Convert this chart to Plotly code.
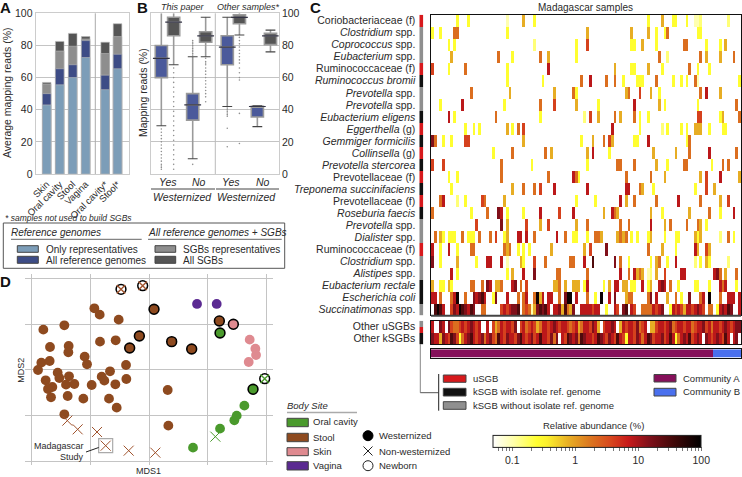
import math
import plotly.graph_objects as go

W, H = 742, 477
FONT = "Liberation Sans"
TXT = "#2a2a2a"

# ---------- Panel A ----------
a_labels = ["Skin", "Oral cavity", "Stool", "Vagina", "Oral cavity*", "Stool*"]
a_pos = [0, 1, 2, 3, 4.5, 5.45]
a_only_rep = [43, 55.5, 60, 72.5, 52.5, 65.5]
a_all_ref = [50, 65.5, 68, 83, 61.5, 74.5]
a_sgb_rep = [56, 76.5, 79.5, 84, 75, 85.5]
a_all_sgb = [57, 82.5, 87.5, 85.5, 82, 93.5]

# ---------- Panel B ----------
b_pos = [0, 0.385, 0.98, 1.385, 2.06, 2.44, 3.0, 3.41]
b_q1 = [60, 86, 33.5, 82, 68, 93.5, 35.5, 80.5]
b_med = [72, 94.5, 43, 86, 79, 97.5, 42, 86]
b_q3 = [80, 97.5, 50, 88.5, 86, 99, 42.2, 87.5]
b_low = [30, 68, 9.5, 73, 42, 86.5, 29.5, 76]
b_up = [100, 100, 73, 97.5, 97.5, 100, 42.5, 89.5]
b_out_x = ([0] * 15 + [0.385] * 22 + [0.98] * 11 + [1.385] * 15 + [2.06] * 8 + [2.44] * 15)
b_out_y = [28, 26, 24, 22, 20, 18, 16, 14, 12, 10, 8, 6, 5, 4, 3,
           66, 63, 60, 57, 54, 51, 48, 45, 42, 39, 36, 33, 30, 27, 24, 21, 18, 15, 12, 9, 6, 3,
           74, 75, 76, 77, 78, 79, 80, 81, 82, 83, 6,
           72, 70, 69, 68, 66, 64, 62, 60, 58, 56, 54, 52, 50, 48, 45,
           41, 40, 39, 38, 37, 36, 28.5, 17,
           85, 83, 81, 79, 77, 75, 73, 71, 69, 66, 63, 60, 58.5, 37.7, 19]

# ---------- Panel C ----------
P, Y, G, O, F, R, D, B, K = 0.1, 0.25, 0.8, 2, 4, 8, 15, 30, 80
row_names = ["Coriobacteriaceae (f)", "<i>Clostridium</i> spp.", "<i>Coprococcus</i> spp.", "<i>Eubacterium</i> spp.",
             "Ruminococcaceae (f)", "<i>Ruminococcus bromii</i>", "<i>Prevotella</i> spp.", "<i>Prevotella</i> spp.",
             "<i>Eubacterium eligens</i>", "<i>Eggerthella</i> (g)", "<i>Gemmiger formicilis</i>", "<i>Collinsella</i> (g)",
             "<i>Prevotella stercorea</i>", "Prevotellaceae (f)", "<i>Treponema succinifaciens</i>", "Prevotellaceae (f)",
             "<i>Roseburia faecis</i>", "<i>Prevotella</i> spp.", "<i>Dialister</i> spp.", "Ruminococcaceae (f)",
             "<i>Clostridium</i> spp.", "<i>Alistipes</i> spp.", "<i>Eubacterium rectale</i>", "<i>Escherichia coli</i>",
             "<i>Succinatimonas</i> spp."]
row_types = [0, 2, 2, 2, 0, 1, 2, 2, 1, 0, 1, 0, 1, 0, 1, 0, 1, 2, 2, 0, 2, 2, 1, 1, 2]

r01 = [(9, Y), (13, Y), (27, P), (33, G), (37, Y), (78, Y), (83, G), (87, Y), (88, Y), (92, Y), (95, P), (96, P), (97, 0.15), (107, 0.15)]
r02 = [(0, Y), (3, Y), (8, O), (9, O), (27, Y), (56, G), (72, G), (78, G), (81, Y), (84, Y), (85, O), (96, Y), (97, Y)]
r03 = [(6, Y), (8, Y), (37, 0.15), (52, Y), (56, F), (72, Y), (73, Y), (76, G), (81, Y), (91, O), (92, O), (99, Y), (104, Y), (106, G)]
r04 = [(7, G), (24, O), (29, Y), (39, O), (42, G), (52, Y), (82, O), (85, 0.15), (97, O), (99, G), (104, G), (109, O)]
r05 = [(0, F), (6, Y), (12, O), (27, Y), (42, R), (66, G), (72, Y), (73, Y), (78, G), (83, Y), (93, O), (96, Y), (100, Y)]
r06 = [(27, Y), (40, Y), (54, O), (57, R), (63, O), (66, O), (69, Y), (74, Y), (75, Y), (76, Y), (81, O), (87, Y), (90, Y), (92, Y), (95, O), (96, P), (111, Y)]
r07 = [(14, O), (28, G), (44, G), (51, O), (52, Y), (70, G), (71, O), (75, F), (79, G), (82, Y), (97, O), (99, R), (104, G)]
r08 = [(3, Y), (11, R), (26, Y), (39, O), (44, F), (52, G), (60, Y), (73, R), (82, G), (84, Y), (96, Y), (110, O)]
r09 = [(6, R), (8, Y), (23, O), (39, Y), (55, 0.15), (57, F), (60, G), (66, O), (68, G), (73, O), (75, Y), (78, Y), (96, F), (97, F), (104, Y), (105, G), (111, O)]
r10 = [(12, Y), (15, Y), (17, Y), (27, G), (29, Y), (31, O), (33, F), (65, R), (75, Y), (83, 0.15), (85, Y), (90, Y), (92, Y), (95, G), (96, G), (97, G), (100, Y), (105, Y), (106, Y)]
r11 = [(0, D), (1, O), (4, Y), (7, Y), (12, F), (13, F), (33, G), (54, Y), (58, G), (62, O), (64, F), (65, G), (73, Y), (74, Y), (78, R), (92, Y), (93, O)]
r12 = [(22, Y), (29, O), (41, O), (43, G), (56, G), (58, R), (64, Y), (80, G), (88, G), (93, O), (100, R), (110, O)]
r13 = [(0, F), (4, F), (25, O), (36, Y), (56, Y), (67, O), (68, O), (73, O), (81, G), (85, Y), (91, O), (92, O), (101, Y), (105, O), (107, O)]
r14 = [(6, Y), (9, Y), (25, O), (42, O), (51, R), (52, O), (53, Y), (70, O), (79, O), (84, G), (97, G), (99, F), (104, R), (111, G)]
r15 = [(7, Y), (29, G), (33, O), (37, O), (39, F), (44, R), (56, R), (70, R), (71, R), (75, O), (76, G), (80, Y), (95, Y), (99, F), (102, G)]
r16 = [(3, O), (4, R), (9, 0.15), (12, Y), (18, F), (19, O), (26, G), (52, Y), (59, Y), (68, R), (70, G), (73, O), (81, O), (89, R), (97, O), (104, G), (107, F)]
r17 = [(0, O), (14, Y), (20, O), (24, D), (25, R), (27, Y), (33, Y), (39, R), (46, F), (51, R), (62, G), (65, R), (66, O), (67, G), (79, G), (83, Y), (93, G), (100, O), (104, Y), (109, R)]
r18 = [(16, F), (25, D), (27, G), (34, F), (39, G), (42, F), (52, G), (56, O), (68, O), (71, O), (79, R), (84, G), (86, O), (92, O), (96, O), (97, G), (99, Y)]
r19 = [(1, O), (3, G), (4, Y), (6, Y), (7, Y), (8, Y), (11, O), (13, Y), (14, Y), (15, Y), (17, O), (21, O), (23, F), (26, Y), (27, G), (31, R), (32, R), (34, R), (37, O), (45, R), (48, O), (51, Y), (52, Y), (56, Y), (59, O), (60, O), (61, G), (67, G), (68, O), (69, G), (70, O), (72, Y), (74, Y), (78, Y), (79, G), (84, Y), (88, Y), (89, Y), (95, G), (96, Y), (97, G), (104, 0.15), (107, O), (109, Y)]
r20 = [(0, R), (3, Y), (6, R), (9, Y), (14, O), (15, O), (26, O), (27, G), (28, O), (31, Y), (33, Y), (35, Y), (43, G), (55, G), (57, F), (63, D), (78, O), (83, G), (88, Y), (95, R), (96, G), (99, F), (100, G)]
r21 = [(0, D), (3, Y), (9, G), (16, Y), (20, R), (21, R), (25, R), (27, 0.1), (32, G), (33, Y), (37, F), (41, O), (50, O), (51, O), (55, R), (58, B), (66, D), (68, O), (71, Y), (79, Y), (81, G), (82, O), (85, Y), (88, R), (95, 0.15), (97, Y), (99, G), (100, Y), (107, 0.15)]
r22 = [(7, R), (9, Y), (27, Y), (29, G), (33, R), (37, D), (45, O), (46, O), (56, O), (68, R), (71, O), (73, R), (74, G), (75, O), (76, G), (78, P), (79, 0.15), (81, G), (84, F), (90, R), (91, R), (102, R), (103, D), (104, O), (106, G), (110, O)]
r23 = [(0, G), (3, Y), (4, Y), (6, G), (7, Y), (14, O), (15, O), (18, O), (20, D), (21, R), (23, G), (24, G), (25, O), (29, R), (30, D), (32, O), (34, F), (44, G), (45, G), (46, O), (48, G), (51, G), (52, G), (53, G), (55, Y), (56, R), (62, Y), (64, G), (66, R), (67, R), (69, G), (70, G), (72, Y), (73, Y), (76, R), (78, Y), (79, G), (82, R), (83, D), (84, R), (86, O), (89, Y), (95, Y), (96, Y), (100, Y), (104, R), (105, O), (106, R), (110, Y)]
r24 = [(0, R), (1, R), (3, O), (7, O), (8, R), (9, K), (12, O), (15, D), (16, R), (17, D), (18, B), (19, R), (22, Y), (23, D), (27, R), (31, O), (33, O), (34, R), (37, O), (38, K), (39, G), (40, R), (42, R), (43, R), (46, O), (48, D), (49, K), (50, K), (52, R), (56, O), (59, Y), (61, K), (64, R), (66, D), (70, G), (71, O), (72, O), (78, O), (79, D), (81, R), (85, G), (88, O), (90, Y), (93, D), (97, O), (98, R), (100, K), (104, O), (107, R), (108, R), (109, R), (111, R)]
r25 = [0, B, K, B, R, 0, 0, F, D, R, K, B, D, R, B, D, 0, 0, O, O,
       0, 0, 0, 0, 0, F, R, F, R, D, D, B, 0, O, F, O, P, G, D, B,
       D, B, R, 0, R, R, D, G, B, O, G, D, 0, 0, R, R, R, R, F, R,
       R, 0, 0, Y, 0, 0, R, F, 0, D, B, 0, R, F, 0, 0, O, O, O, O,
       R, F, R, D, 0, 0, Y, R, F, R, F, G, R, R, F, R, D, R, F, 0,
       O, O, 0, Y, R, D, R, B, D, 0, 0, R]
heat_rows = [r01, r02, r03, r04, r05, r06, r07, r08, r09, r10, r11, r12, r13, r14, r15, r16, r17, r18, r19, r20, r21, r22, r23, r24]

other_u = [R, 0, 0, D, R, 0, D, F, O, O, F, R, F, R, D, R, F, R, 0, 0, R, 0, F, G, O, R, F, R, R, F, D, 0, F, R, O, F, R, F, G, O,
           R, R, F, R, D, R, F, R, R, F, O, F, R, G, O, R, R, F, D, R, G, 0, F, R, R, D, R, 0, G, R, F, R, R, F, D, O, F, R, 0, G,
           G, F, R, R, F, R, D, O, F, R, R, F, R, R, O, F, R, R, D, F, R, O, R, R, F, R, D, R, F, R, D, D]
other_k = [D, R, R, G, D, R, F, B, D, F, Y, O, R, D, B, R, F, R, D, O, R, D, F, O, B, R, F, D, R, R, F, D, B, R, F, R, D, F, R, B,
           R, R, F, D, O, D, 0, R, F, B, D, R, D, O, B, D, R, R, F, R, B, D, R, F, D, R, F, B, R, F, Y, R, R, F, D, R, O, R, B, D,
           F, R, R, D, F, R, B, R, Y, O, R, D, R, B, F, R, D, R, 0, D, R, F, R, D, R, F, B, R, 0, R, D, 0]
community_B_start = 102
n_samples = 112

# ---------- Panel D (MDS coordinates, gridlines at multiples of 176 / 137.5) ----------
mds_ticks_x = [-352, -176, 0, 175, 351]
mds_ticks_y = [-275, -137, 0, 137, 275]
stool_x = [-164, -148, -91, -254, -317, -147, -100, -241, -297, -242, -193, -323, -298, -186, -69, -333, -274, -240, -269, -117, -142, -134, -68, -310, -249, -224, -172, -101, -290, -303, 56, -294, -244, -197, -120, -97, -254, 58]
stool_y = [185, 166, 151, 134, 121, 85, 89, 72, 69, 53, 40, 22, 27, 17, 15, 0, -8, -19, -24, -4, -20, -32, -27, -31, -44, -42, -45, -43, -51, -57, -60, -82, -78, -86, -86, -113, -133, -167]
stool_w_x = [15, -29, -58, 68, 128, 211]
stool_w_y = [182, 102, 66, 85, 63, 147]
oral_x = [213, 256, 263, 286, 132]
oral_y = [-176, -151, -137, -107, -233]
oral_w_x = [213, 312]
oral_w_y = [111, -58]
skin_x = [302, 319, 321, 299]
skin_y = [91, 64, 45, 24]
skin_w_x = [253]
skin_w_y = [137]
vagina_x = [144, 203]
vagina_y = [198, 198]
stool_x_x = [-245, -214, -156, -130, -61, 19]
stool_x_y = [-152, -178, -186, -227, -242, -248]
oral_x_x = [199]
oral_x_y = [-200]
newborn_stool_x = [-84, -19]
newborn_stool_y = [242, 253]
newborn_oral_x = [347]
newborn_oral_y = [-26]
madagascar_x = [-130]
madagascar_y = [-227]

C_ONLY, C_ALLREF, C_SGBREP, C_ALLSGB = "#7c9db8", "#3d4c86", "#8e8e8e", "#555555"
C_BOXB = "#4b5a9b"
C_ORAL, C_STOOL, C_SKIN, C_VAG = "#4a9a2c", "#8e4a1f", "#df8a90", "#5b2a92"
C_U, C_K, C_N = "#d7191c", "#111111", "#8f8f8f"
C_A, C_B = "#85105a", "#4a70ee"
GRID = "#c4c4c4"

CSCALE = [[0, "#ffffff"], [0.1, "#ffffa8"], [0.21, "#ffff30"], [0.26, "#fbf02c"], [0.36, "#e8b024"], [0.46, "#dc7a20"],
          [0.56, "#d84a1e"], [0.65, "#c81a1a"], [0.75, "#80101a"], [0.87, "#400808"], [1, "#000000"]]
ZMIN, ZMAX = math.log10(0.05), 2.0


def lg(v):
    return math.log10(v) if v else None


def sparse(pairs):
    row = [None] * n_samples
    for c, v in pairs:
        row[c] = lg(v)
    return row


def fx(p):
    return p / W


def fy(p):
    return 1 - p / H


heat_z = [sparse(r) for r in heat_rows] + [[lg(v) for v in r25]]
other_z = [[lg(v) for v in other_u], [lg(v) for v in other_k]]

fig = go.Figure()
ann, shp = [], []


def text(x, y, s, size=10, anchor="left", color=TXT, angle=0, bold=False, italic=False):
    if italic:
        s = "<i>" + s + "</i>"
    if bold:
        s = "<b>" + s + "</b>"
    ann.append(dict(x=fx(x), y=fy(y), xref="paper", yref="paper", text=s, showarrow=False, xanchor=anchor,
                    yanchor="middle", font=dict(size=size, color=color, family=FONT), textangle=angle,
                    borderpad=0, borderwidth=0))


def line(x0, y0, x1, y1, color=TXT, width=1):
    shp.append(dict(type="line", xref="paper", yref="paper", x0=fx(x0), y0=fy(y0), x1=fx(x1), y1=fy(y1),
                    line=dict(color=color, width=width)))


def rect(x0, y0, x1, y1, fill, edge="#444444", width=1):
    shp.append(dict(type="rect", xref="paper", yref="paper", x0=fx(x0), y0=fy(y0), x1=fx(x1), y1=fy(y1),
                    fillcolor=fill, line=dict(color=edge, width=width)))


# ---------- A bars ----------
for vals, col in [(a_all_sgb, C_ALLSGB), (a_sgb_rep, C_SGBREP), (a_all_ref, C_ALLREF), (a_only_rep, C_ONLY)]:
    fig.add_trace(go.Bar(x=a_pos, y=vals, width=0.66, marker=dict(color=col, line=dict(color="#b8b8b8", width=0.6)),
                         xaxis="x", yaxis="y", showlegend=False))

# ---------- B boxes ----------
for i, p in enumerate(b_pos):
    col = C_BOXB if i % 2 == 0 else C_ALLSGB
    fig.add_trace(go.Box(x=[p], q1=[b_q1[i]], median=[b_med[i]], q3=[b_q3[i]], lowerfence=[b_low[i]], upperfence=[b_up[i]],
                         width=0.38, whiskerwidth=0.01, fillcolor=col, line=dict(color="#9a9a9a", width=1.6),
                         boxpoints=False, xaxis="x2", yaxis="y2", showlegend=False))
fig.add_trace(go.Scatter(x=b_pos, y=b_med, mode="markers", marker=dict(symbol="line-ew", size=12, line=dict(color="#333344", width=1.2)),
                         xaxis="x2", yaxis="y2", showlegend=False))
fig.add_trace(go.Scatter(x=b_pos, y=b_low, mode="markers", marker=dict(symbol="line-ew", size=7, line=dict(color="#444444", width=1.1)),
                         xaxis="x2", yaxis="y2", showlegend=False))
fig.add_trace(go.Scatter(x=b_pos[2:4] + b_pos[4:5] + b_pos[6:8], y=b_up[2:4] + b_up[4:5] + b_up[6:8], mode="markers",
                         marker=dict(symbol="line-ew", size=7, line=dict(color="#444444", width=1.1)),
                         xaxis="x2", yaxis="y2", showlegend=False))
fig.add_trace(go.Scatter(x=b_out_x, y=b_out_y, mode="markers", marker=dict(size=1.6, color="#909090"),
                         xaxis="x2", yaxis="y2", showlegend=False))

# ---------- C heatmaps ----------
samples = list(range(n_samples))
fig.add_trace(go.Heatmap(z=heat_z, x=samples, y=list(range(25)), colorscale=CSCALE, zmin=ZMIN, zmax=ZMAX, xaxis="x3", yaxis="y3",
                         hoverongaps=False,
                         colorbar=dict(orientation="h", x=fx(493.3), xanchor="left", y=fy(466.5), yanchor="bottom", len=208.4, lenmode="pixels",
                                       thickness=12, thicknessmode="pixels", outlinecolor="#222222", outlinewidth=1, xpad=0, ypad=0,
                                       tickmode="array",
                                       tickvals=[lg(v) for v in [0.06, 0.07, 0.08, 0.09, 0.1, 0.2, 0.3, 0.4, 0.5, 0.6, 0.7, 0.8, 0.9, 1, 2, 3, 4, 5, 6, 7, 8, 9, 10, 20, 30, 40, 50, 60, 70, 80, 90, 100]],
                                       ticktext=["", "", "", "", "0.1", "", "", "", "", "", "", "", "", "1", "", "", "", "", "", "", "", "", "10", "", "", "", "", "", "", "", "", "100"],
                                       ticks="outside", ticklen=4, tickwidth=0.7, tickcolor="#777777",
                                       tickfont=dict(size=10.5, color=TXT, family=FONT))))
fig.add_trace(go.Heatmap(z=other_z, x=samples, y=[0, 1], colorscale=CSCALE, zmin=ZMIN, zmax=ZMAX, showscale=False, xaxis="x4", yaxis="y4", hoverongaps=False))
community = [0 if s < community_B_start else 1 for s in samples]
fig.add_trace(go.Heatmap(z=[community], x=samples, y=[0], colorscale=[[0, C_A], [1, C_B]], zmin=0, zmax=1, showscale=False, xaxis="x5", yaxis="y5"))
fig.add_trace(go.Heatmap(z=[[t] for t in row_types], x=[0], y=list(range(25)), colorscale=[[0, C_U], [0.33, C_U], [0.34, C_K], [0.66, C_K], [0.67, C_N], [1, C_N]],
                         zmin=0, zmax=2, showscale=False, xaxis="x6", yaxis="y6"))
fig.add_trace(go.Heatmap(z=[[2], [0], [1], [1]], x=[0], y=[0, 1, 2, 3], colorscale=[[0, C_U], [0.33, C_U], [0.34, C_K], [0.66, C_K], [0.67, C_N], [1, C_N]],
                         zmin=0, zmax=2, showscale=False, xaxis="x7", yaxis="y7"))


# ---------- D scatter ----------
def pts(xs, ys, **m):
    fig.add_trace(go.Scatter(x=xs, y=ys, mode="markers", marker=m, xaxis="x8", yaxis="y8", showlegend=False))


pts(stool_x, stool_y, size=9.8, color=C_STOOL)
pts(stool_w_x, stool_w_y, size=9.8, color=C_STOOL, line=dict(color="#000000", width=1.6))
pts(oral_x, oral_y, size=9.8, color=C_ORAL)
pts(oral_w_x, oral_w_y, size=9.8, color=C_ORAL, line=dict(color="#000000", width=1.6))
pts(skin_x, skin_y, size=9.8, color=C_SKIN)
pts(skin_w_x, skin_w_y, size=9.8, color=C_SKIN, line=dict(color="#000000", width=1.6))
pts(vagina_x, vagina_y, size=9.8, color=C_VAG)
pts(stool_x_x, stool_x_y, size=10, symbol="x-thin", line=dict(color="#a0532d", width=1))
pts(oral_x_x, oral_x_y, size=10, symbol="x-thin", line=dict(color=C_ORAL, width=1))
pts(newborn_stool_x, newborn_stool_y, size=9.8, color="#ffffff", line=dict(color="#000000", width=1.5))
pts(newborn_oral_x, newborn_oral_y, size=9.8, color="#ffffff", line=dict(color="#000000", width=1.5))
pts(newborn_stool_x, newborn_stool_y, size=8.5, symbol="x-thin", line=dict(color="#a0532d", width=1.4))
pts(newborn_oral_x, newborn_oral_y, size=8.5, symbol="x-thin", line=dict(color=C_ORAL, width=1.4))
pts(madagascar_x, madagascar_y, size=14, symbol="square-open", color="#aaaaaa", line=dict(color="#aaaaaa", width=1.2))


def dom(a, b, flip=False):
    return [fx(a), fx(b)] if not flip else [fy(b), fy(a)]


layout = dict(
    width=W, height=H, margin=dict(l=0, r=0, t=0, b=0, autoexpand=False), autosize=False, paper_bgcolor="white", plot_bgcolor="white",
    barmode="overlay", boxmode="overlay", showlegend=False, font=dict(family=FONT, color=TXT),
    xaxis=dict(domain=dom(35.7, 128.7), range=[-0.85, 6.31], tickmode="array", tickvals=a_pos, ticktext=a_labels, tickangle=-45,
               tickfont=dict(size=9.5, color=TXT), ticks="", showgrid=False, zeroline=False, showline=True, mirror=True, linecolor="#cccccc", linewidth=1.2, ticklabelstandoff=0),
    yaxis=dict(domain=dom(13.3, 174, True), range=[0, 100], tickvals=[0, 20, 40, 60, 80, 100], tickfont=dict(size=10.5, color=TXT), ticks="",
               gridcolor=GRID, gridwidth=1, zeroline=False, showline=True, mirror=True, linecolor="#cccccc", linewidth=1.2),
    xaxis2=dict(domain=dom(151, 278.7), range=[-0.323, 3.667], showticklabels=False, ticks="", showgrid=False, zeroline=False, showline=True, mirror=True, linecolor="#cccccc", linewidth=1.2),
    yaxis2=dict(domain=dom(13.3, 174, True), range=[0, 100], side="right", anchor="x2", tickvals=[0, 20, 40, 60, 80, 100], tickfont=dict(size=10.5, color=TXT), ticks="",
                gridcolor=GRID, gridwidth=1, zeroline=False, showline=True, mirror=True, linecolor="#cccccc", linewidth=1.2),
    xaxis3=dict(domain=dom(431, 741), range=[-0.5, 111.5], showticklabels=False, ticks="", showgrid=False, zeroline=False, showline=True, mirror=True, linecolor="#111111", linewidth=1.3, anchor="y3"),
    yaxis3=dict(domain=dom(14.7, 315.2, True), range=[24.5, -0.5], showticklabels=False, ticks="", showgrid=False, zeroline=False, showline=True, mirror=True, linecolor="#111111", linewidth=1.3, anchor="x3"),
    xaxis4=dict(domain=dom(431, 741), range=[-0.5, 111.5], showticklabels=False, ticks="", showgrid=False, zeroline=False, showline=True, mirror=True, linecolor="#111111", linewidth=1.3, anchor="y4"),
    yaxis4=dict(domain=dom(320.7, 344.3, True), range=[1.5, -0.5], showticklabels=False, ticks="", showgrid=False, zeroline=False, showline=True, mirror=True, linecolor="#111111", linewidth=1.3, anchor="x4"),
    xaxis5=dict(domain=dom(431, 741), range=[-0.5, 111.5], showticklabels=False, ticks="", showgrid=False, zeroline=False, showline=True, mirror=True, linecolor="#111111", linewidth=1.2, anchor="y5"),
    yaxis5=dict(domain=dom(349.3, 357.7, True), range=[-0.5, 0.5], showticklabels=False, ticks="", showgrid=False, zeroline=False, showline=True, mirror=True, linecolor="#111111", linewidth=1.2, anchor="x5"),
    xaxis6=dict(domain=dom(419.3, 423.3), range=[-0.5, 0.5], visible=False, anchor="y6"),
    yaxis6=dict(domain=dom(14.7, 315.2, True), range=[24.5, -0.5], tickmode="array", tickvals=list(range(25)), ticktext=row_names, tickfont=dict(size=10.5, color=TXT),
                ticks="", showgrid=False, zeroline=False, showline=False, anchor="x6", ticklabelstandoff=3),
    xaxis7=dict(domain=dom(419.3, 423.3), range=[-0.5, 0.5], visible=False, anchor="y7"),
    yaxis7=dict(domain=dom(320.7, 344.3, True), range=[3.5, -0.5], tickmode="array", tickvals=[0.5, 2.5], ticktext=["Other uSGBs", "Other kSGBs"], tickfont=dict(size=10.5, color=TXT),
                ticks="", showgrid=False, zeroline=False, showline=False, anchor="x7", ticklabelstandoff=3),
    xaxis8=dict(domain=dom(25, 272.7), range=[-372, 371], tickvals=mds_ticks_x, showticklabels=False, ticks="", gridcolor=GRID, zeroline=False, anchor="y8"),
    yaxis8=dict(domain=dom(274.3, 465, True), range=[-285, 287], tickvals=mds_ticks_y, showticklabels=False, ticks="", gridcolor=GRID, zeroline=False, anchor="x8"),
)

# ---------- text & decoration ----------
text(0, 8, "A", 15, bold=True, color="#111")
text(137, 8, "B", 15, bold=True, color="#111")
text(310, 8, "C", 15, bold=True, color="#111")
text(0, 281, "D", 15, bold=True, color="#111")
text(7, 93, "Average mapping reads (%)", 10.5, "center", angle=-90)
text(143, 93, "Mapping reads (%)", 10.5, "center", angle=-90)
text(183, 7, "This paper", 9, "center", italic=True)
text(248, 7, "Other samples*", 9, "center", italic=True)
line(95.3, 13.3, 95.3, 174, "#aaaaaa", 1)
line(215.3, 13.3, 215.3, 174, "#bbbbbb", 1)
line(431, 315.7, 741, 315.7, "#444444", 2)
for x, s in [(167.7, "Yes"), (199, "No"), (231, "Yes"), (263, "No")]:
    text(x, 182, s, 10.5, "center", italic=True)
text(182.7, 197, "Westernized", 10.5, "center", italic=True)
text(246.7, 197, "Westernized", 10.5, "center", italic=True)
line(151, 189, 215, 189, "#444", 1)
line(216, 189, 279, 189, "#444", 1)

text(5, 217.7, "* samples not used to build SGBs", 8.5, italic=True)
rect(3.3, 223, 284.7, 268.3, "rgba(0,0,0,0)", "#555555", 1)
text(11, 232.3, "Reference genomes", 10, italic=True)
text(147.7, 232.3, "All reference genomes + SGBs", 10, italic=True)
line(11, 239.3, 141.7, 239.3, "#666", 1)
line(148, 239.3, 281.7, 239.3, "#666", 1)
rect(17.3, 245.7, 38.3, 252.3, C_ONLY)
rect(17.3, 256.3, 38.3, 263.3, C_ALLREF)
rect(155, 245.7, 175.7, 252.3, C_SGBREP)
rect(155, 256.3, 175.7, 263.3, C_ALLSGB)
text(46, 249, "Only representatives", 10)
text(46, 260, "All reference genomes", 10)
text(183, 249, "SGBs representatives", 10)
text(183, 260, "All SGBs", 10)

text(148, 471, "MDS1", 9, "center")
text(20.7, 370, "MDS2", 9, "center", angle=-90)
text(84, 445.7, "Madagascar", 9, "right")
text(84, 457, "Study", 9, "right")
line(86, 452, 98.7, 447.5, "#222", 1)

text(585.7, 7, "Madagascar samples", 10, "center")
line(420.3, 344, 420.3, 392.7, "#888", 1)
line(420.3, 392.7, 438.3, 392.7, "#555", 1)
line(438.7, 374, 438.7, 410.7, "#222", 1)
rect(443.3, 375, 466, 382.3, C_U)
rect(443.3, 388.3, 466, 396, C_K)
rect(443.3, 401.7, 466, 409.3, C_N)
text(472.7, 378.5, "uSGB", 9.5)
text(472.7, 391.7, "kSGB with isolate ref. genome", 9.5)
text(472.7, 405, "kSGB without isolate ref. genome", 9.5)
rect(654, 374.5, 676, 382, C_A)
rect(654, 388.3, 676, 396, C_B)
text(683, 378, "Community A", 9.5)
text(683, 391.7, "Community B", 9.5)
text(593, 425.7, "Relative abundance (%)", 9.5, "center")

text(287, 405, "Body Site", 9.5, italic=True)
line(287, 412.5, 357, 412.5, "#aaa", 1.5)
for (y0, y1, col, lab, ty) in [(418.3, 426.7, C_ORAL, "Oral cavity", 421.7), (433.3, 441.7, C_STOOL, "Stool", 437.3),
                               (447.7, 455.7, C_SKIN, "Skin", 451.7), (461.7, 470, C_VAG, "Vagina", 465.7)]:
    rect(287, y0, 308.3, y1, col)
    text(313, ty, lab, 9.5)
shp.append(dict(type="circle", xref="paper", yref="paper", x0=fx(363), x1=fx(373), y0=fy(430.7), y1=fy(440.7), fillcolor="#000", line=dict(color="#000", width=1)))
line(363.5, 446.5, 372.5, 455.5, "#222", 1)
line(363.5, 455.5, 372.5, 446.5, "#222", 1)
shp.append(dict(type="circle", xref="paper", yref="paper", x0=fx(363), x1=fx(373), y0=fy(460.7), y1=fy(470.7), fillcolor="#fff", line=dict(color="#222", width=1)))
text(379, 435.7, "Westernized", 9.5)
text(379, 451, "Non-westernized", 9.5)
text(379, 465.7, "Newborn", 9.5)

layout["annotations"] = ann
layout["shapes"] = shp
fig.update_layout(**layout)
fig.write_html("out.html", config={"displayModeBar": False},
               post_script="document.body.style.margin='0';document.body.style.overflow='hidden';")
